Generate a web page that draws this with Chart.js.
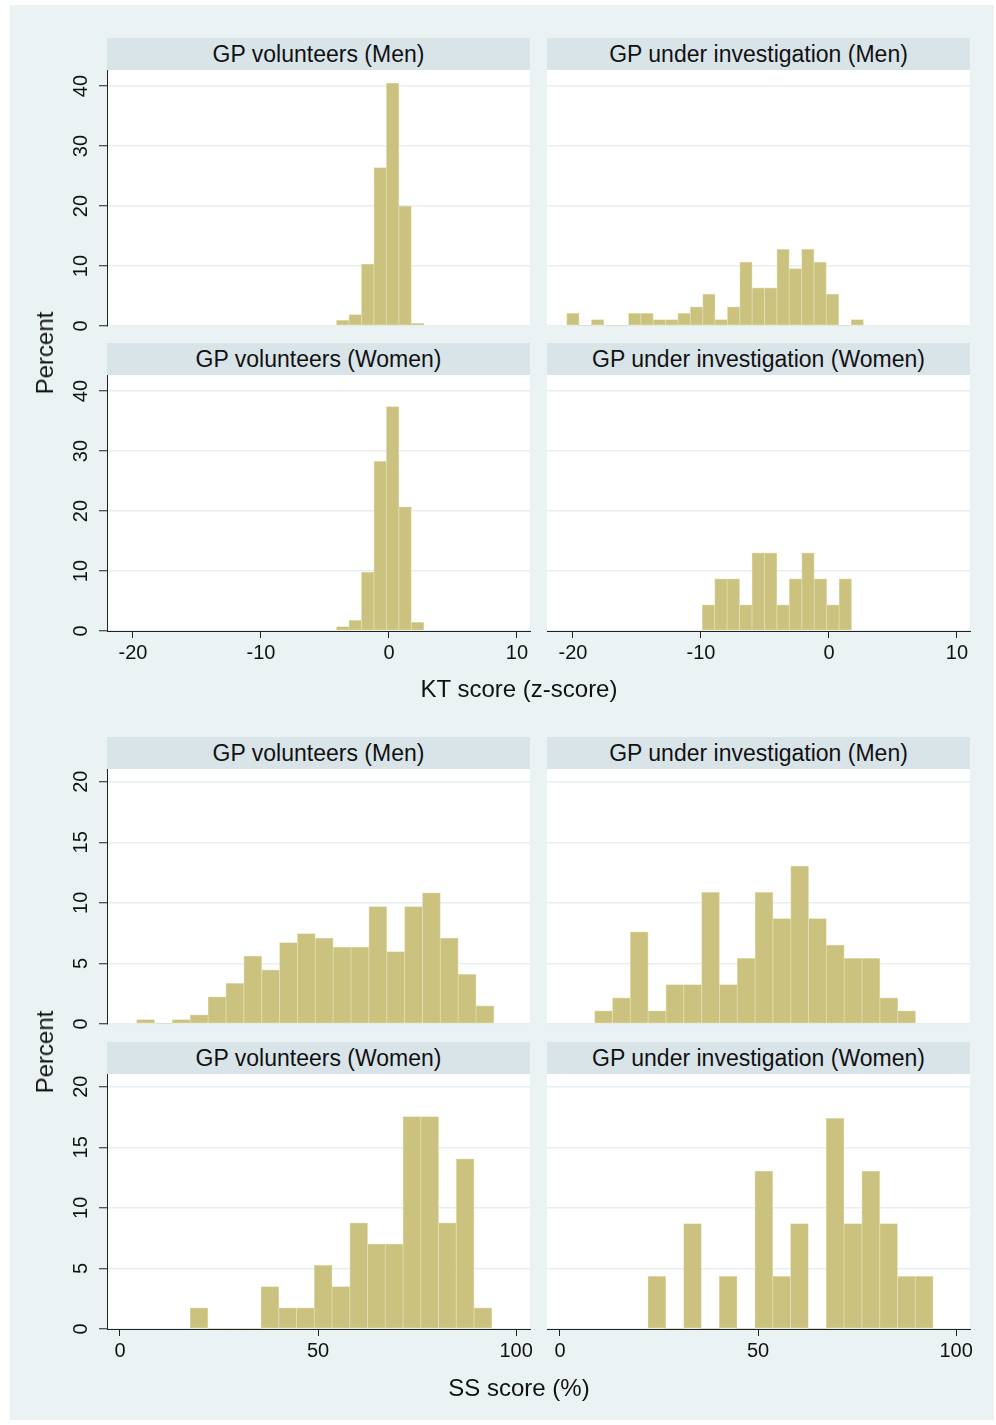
<!DOCTYPE html>
<html><head><meta charset="utf-8">
<script src="https://cdn.jsdelivr.net/npm/chart.js@4.4.1/dist/chart.umd.min.js"></script>
<style>
html,body{margin:0;padding:0;background:#fff;}
#root{position:relative;width:996px;height:1425px;background:#fff;overflow:hidden;font-family:"Liberation Sans",Arial,sans-serif;}
#bg{position:absolute;left:10px;top:5px;width:984px;height:1415px;background:#eaf2f3;}
.hdr{position:absolute;height:32px;line-height:32px;text-align:center;background:#d9e4e9;font-size:23px;color:#111;white-space:nowrap;}
.ttl{position:absolute;font-size:24px;line-height:28px;color:#111;white-space:nowrap;}
canvas{position:absolute;}
</style></head><body><div id="root"><div id="bg"></div></div>
<script>
// ---------- tick labels ----------
const ktTicks = [-20, -10, 0, 10];
const ktPctTicks = [0, 10, 20, 30, 40];
const ssTicks = [0, 50, 100];
const ssPctTicks = [0, 5, 10, 15, 20];

// ---------- panel titles ----------
const panelTitles = ["GP volunteers (Men)", "GP under investigation (Men)", "GP volunteers (Women)", "GP under investigation (Women)"];
const ktTitle = "KT score (z-score)";
const ssTitle = "SS score (%)";
const yTitle = "Percent";

// ---------- KT score histograms (percent per bin) ----------
const ktVolBinStart = -4.1, ktVolBinWidth = 0.975;
const ktVolMen   = [0.95, 1.9, 10.3, 26.4, 40.5, 20.0, 0.45];
const ktVolWomen = [0.72, 1.78, 9.83, 28.3, 37.4, 20.7, 1.44];

const ktGpMenBinStart = -20.49, ktGpMenBinWidth = 0.966;
const ktGpMen = [2.13, 0, 1.06, 0, 0, 2.13, 2.13, 1.06, 1.06, 2.13, 3.19, 5.32, 1.06, 3.19, 10.64, 6.38, 6.38, 12.77, 9.57, 12.77, 10.64, 5.32, 0, 1.06];

const ktGpWomenBinStart = -9.9, ktGpWomenBinWidth = 0.972;
const ktGpWomen = [4.35, 8.70, 8.70, 4.35, 13.04, 13.04, 4.35, 8.70, 13.04, 8.70, 4.35, 8.70];

// ---------- SS score histograms (percent per bin) ----------
const ssVolMenBinStart = 4.2, ssVolMenBinWidth = 4.51;
const ssVolMen = [0.37, 0, 0.37, 0.75, 2.24, 3.36, 5.60, 4.48, 6.72, 7.46, 7.09, 6.34, 6.34, 9.70, 5.97, 9.70, 10.82, 7.09, 4.10, 1.49];

const ssGpMenBinStart = 8.75, ssGpMenBinWidth = 4.50;
const ssGpMen = [1.09, 2.17, 7.61, 1.09, 3.26, 3.26, 10.87, 3.26, 5.43, 10.87, 8.70, 13.04, 8.70, 6.52, 5.43, 5.43, 2.17, 1.09];

const ssVolWomenBinStart = 17.7, ssVolWomenBinWidth = 4.48;
const ssVolWomen = [1.75, 0, 0, 0, 3.51, 1.75, 1.75, 5.26, 3.51, 8.77, 7.02, 7.02, 17.54, 17.54, 8.77, 14.04, 1.75];

const ssGpWomenBinStart = 22.2, ssGpWomenBinWidth = 4.50;
const ssGpWomen = [4.35, 0, 8.70, 0, 4.35, 0, 13.04, 4.35, 8.70, 0, 17.39, 8.70, 13.04, 8.70, 4.35, 4.35];

// ---------- rendering ----------
const root = document.getElementById('root');
const FONT = '"Liberation Sans", Arial, sans-serif';
const P = 30;

const whiteArea = {
  id: 'whiteArea',
  beforeDraw(chart) {
    const {ctx, chartArea: a} = chart;
    ctx.save(); ctx.fillStyle = '#ffffff';
    ctx.fillRect(a.left, a.top, a.right - a.left, a.bottom - a.top);
    ctx.restore();
  }
};

function addDiv(cls, text, style) {
  const d = document.createElement('div');
  d.className = cls; d.textContent = text;
  Object.assign(d.style, style);
  root.appendChild(d);
  return d;
}

function makePanel(o) {
  addDiv('hdr', o.title, {left: o.left + 'px', top: (o.top - 32) + 'px', width: o.w + 'px'});
  const yW = o.showY ? 47 : 0;
  const xH = o.showX ? 50 : 0;
  const cw = o.w + yW + 2 * P, ch = o.h + xH + 2 * P;
  const cv = document.createElement('canvas');
  cv.width = cw; cv.height = ch;
  cv.style.left = (o.left - yW - P) + 'px';
  cv.style.top = (o.top - P) + 'px';
  cv.style.width = cw + 'px'; cv.style.height = ch + 'px';
  root.appendChild(cv);
  const pts = o.values.map((v, i) => ({x: o.start + (i + 0.5) * o.width, y: v}));
  new Chart(cv, {
    type: 'bar',
    data: {datasets: [{
      data: pts,
      backgroundColor: '#cac27e',
      borderColor: '#e2deb0',
      borderWidth: c => (c.raw && c.raw.y > 0) ? 0.75 : 0,
      borderSkipped: false,
      barPercentage: 1, categoryPercentage: 1
    }]},
    options: {
      responsive: false, animation: false, devicePixelRatio: 1,
      layout: {padding: P},
      plugins: {legend: {display: false}, tooltip: {enabled: false}},
      scales: {
        x: {
          type: 'linear', min: o.xMin, max: o.xMax, display: o.showX, offset: false,
          bounds: 'data',
          afterBuildTicks: s => { s.ticks = o.xTicks.map(v => ({value: v})); },
          grid: {offset: false, drawOnChartArea: false, drawTicks: true, tickLength: 7, tickColor: '#222', tickWidth: 1},
          border: {display: true, color: '#222', width: 1},
          ticks: {font: {family: FONT, size: 20}, color: '#111', padding: 3, maxRotation: 0, minRotation: 0, autoSkip: false},
          afterFit: s => { s.height = xH; }
        },
        y: {
          type: 'linear', min: 0, max: o.yMax, offset: false,
          afterBuildTicks: s => { s.ticks = o.yTicks.map(v => ({value: v})); },
          grid: {offset: false, color: '#e8eff2', lineWidth: 1.5, drawTicks: o.showY, tickLength: 8, tickColor: '#222', tickWidth: 1},
          border: {display: o.showY, color: '#222', width: 1},
          ticks: {display: o.showY, minRotation: 90, maxRotation: 90, crossAlign: 'center', padding: 6,
                  font: {family: FONT, size: 20}, color: '#111', autoSkip: false},
          afterFit: s => { s.width = yW; }
        }
      }
    },
    plugins: [whiteArea]
  });
}

const L = 107, R = 547, W = 423;
const KT = {xMin: -22.03, xMax: 11.02, yMax: 42.67, xTicks: ktTicks, yTicks: ktPctTicks, h: 256, w: W};
const SS = {xMin: -3.28, xMax: 103.5, yMax: 21.05, xTicks: ssTicks, yTicks: ssPctTicks, h: 255, w: W};

makePanel({...KT, title: panelTitles[0], left: L, top: 70, showY: true, showX: false, values: ktVolMen, start: ktVolBinStart, width: ktVolBinWidth});
makePanel({...KT, title: panelTitles[1], left: R, top: 70, showY: false, showX: false, values: ktGpMen, start: ktGpMenBinStart, width: ktGpMenBinWidth});
makePanel({...KT, title: panelTitles[2], left: L, top: 375, showY: true, showX: true, values: ktVolWomen, start: ktVolBinStart, width: ktVolBinWidth});
makePanel({...KT, title: panelTitles[3], left: R, top: 375, showY: false, showX: true, values: ktGpWomen, start: ktGpWomenBinStart, width: ktGpWomenBinWidth});

makePanel({...SS, title: panelTitles[0], left: L, top: 769, showY: true, showX: false, values: ssVolMen, start: ssVolMenBinStart, width: ssVolMenBinWidth});
makePanel({...SS, title: panelTitles[1], left: R, top: 769, showY: false, showX: false, values: ssGpMen, start: ssGpMenBinStart, width: ssGpMenBinWidth});
makePanel({...SS, title: panelTitles[2], left: L, top: 1074, showY: true, showX: true, values: ssVolWomen, start: ssVolWomenBinStart, width: ssVolWomenBinWidth});
makePanel({...SS, title: panelTitles[3], left: R, top: 1074, showY: false, showX: true, values: ssGpWomen, start: ssGpWomenBinStart, width: ssGpWomenBinWidth});

addDiv('ttl', ktTitle, {left: '519px', top: '675px', transform: 'translateX(-50%)'});
addDiv('ttl', ssTitle, {left: '519px', top: '1374px', transform: 'translateX(-50%)'});
addDiv('ttl', yTitle, {left: '45px', top: '353px', transform: 'translate(-50%,-50%) rotate(-90deg)'});
addDiv('ttl', yTitle, {left: '45px', top: '1052px', transform: 'translate(-50%,-50%) rotate(-90deg)'});
</script>
</body></html>
